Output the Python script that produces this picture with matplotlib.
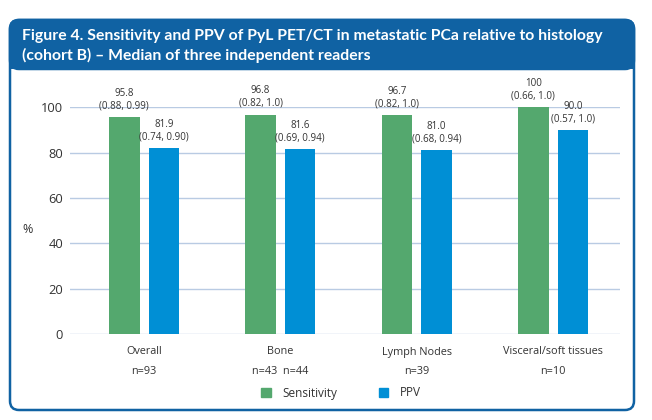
import matplotlib.pyplot as plt
from matplotlib.patches import FancyBboxPatch, Patch
import numpy as np

categories = ["Overall", "Bone", "Lymph Nodes", "Visceral/soft tissues"]
n_labels = ["n=93", "n=43  n=44", "n=39", "n=10"]
sensitivity = [95.8, 96.8, 96.7, 100]
ppv = [81.9, 81.6, 81.0, 90.0]
sens_txt = ["95.8", "96.8", "96.7", "100"]
ppv_txt = ["81.9", "81.6", "81.0", "90.0"]
sens_ci = ["(0.88, 0.99)", "(0.82, 1.0)", "(0.82, 1.0)", "(0.66, 1.0)"]
ppv_ci = ["(0.74, 0.90)", "(0.69, 0.94)", "(0.68, 0.94)", "(0.57, 1.0)"]

GREEN = "#54a86e"
BLUE = "#008fd5"
HEAD = "#1062a3"
GRID = "#b9cbe3"
TXT = "#333333"

plt.rcParams['font.family'] = ['Open Sans', 'DejaVu Sans']

fig = plt.figure(figsize=(6.52, 4.2), dpi=100)
W, H = 652, 420

# background axes in pixel coords for the rounded box and header band
bg = fig.add_axes([0, 0, 1, 1], zorder=-1)
bg.set_xlim(0, W)
bg.set_ylim(H, 0)
bg.axis("off")
bg.add_patch(FancyBboxPatch((10, 20), 624, 390,
                            boxstyle="round,pad=0,rounding_size=9",
                            facecolor="white", edgecolor=HEAD, linewidth=1.8))
bg.add_patch(FancyBboxPatch((10, 20), 624, 49,
                            boxstyle="round,pad=0,rounding_size=9",
                            facecolor=HEAD, edgecolor=HEAD, linewidth=1.8))
bg.add_patch(plt.Rectangle((10, 55), 624, 14, facecolor=HEAD, edgecolor="none"))
bg.text(22, 36,
        "Figure 4. Sensitivity and PPV of PyL PET/CT in metastatic PCa relative to histology",
        color="white", fontsize=11.3, fontweight="bold", va="center", ha="left",
        family=['Lato', 'DejaVu Sans'])
bg.text(22, 55,
        "(cohort B) \u2013 Median of three independent readers",
        color="white", fontsize=11.3, fontweight="bold", va="center", ha="left",
        family=['Lato', 'DejaVu Sans'])

ax = fig.add_axes([70 / W, 86 / H, 550 / W, 226.7 / H])
x = np.arange(len(categories))
bw = 0.224
off = 0.145
ax.bar(x - off, sensitivity, bw, color=GREEN, zorder=3)
ax.bar(x + off, ppv, bw, color=BLUE, zorder=3)

for i in range(len(categories)):
    ax.annotate(sens_ci[i], (x[i] - off, sensitivity[i]), xytext=(0, 4),
                textcoords="offset points", ha="center", va="bottom",
                fontsize=7, color=TXT, zorder=4)
    ax.annotate(sens_txt[i], (x[i] - off, sensitivity[i]), xytext=(0, 13),
                textcoords="offset points", ha="center", va="bottom",
                fontsize=7, color=TXT, zorder=4)
    ax.annotate(ppv_ci[i], (x[i] + off, ppv[i]), xytext=(0, 4),
                textcoords="offset points", ha="center", va="bottom",
                fontsize=7, color=TXT, zorder=4)
    ax.annotate(ppv_txt[i], (x[i] + off, ppv[i]), xytext=(0, 13),
                textcoords="offset points", ha="center", va="bottom",
                fontsize=7, color=TXT, zorder=4)
    ax.annotate(n_labels[i], (x[i], 0), xycoords=("data", "axes fraction"),
                xytext=(0, -27), textcoords="offset points", ha="center",
                va="center", fontsize=7.8, color=TXT)

ax.set_xlim(-0.543, 3.49)
ax.set_ylim(0, 100)
ax.set_yticks(range(0, 101, 20))
ax.set_xticks(x)
ax.set_xticklabels(categories)
ax.tick_params(axis="x", length=0, pad=9, labelsize=7.8, labelcolor=TXT)
ax.tick_params(axis="y", length=0, pad=5, labelsize=9.3, labelcolor=TXT)
ax.yaxis.grid(True, color=GRID, linewidth=1.0, zorder=0)
ax.set_axisbelow(True)
for s in ax.spines.values():
    s.set_visible(False)
ax.text(-0.078, 0.46, "%", transform=ax.transAxes, fontsize=9, color=TXT,
        ha="center", va="center")

handles = [Patch(color=GREEN, label="Sensitivity"), Patch(color=BLUE, label="PPV")]
fig.legend(handles=handles, loc="center", bbox_to_anchor=(341 / W, 1 - 393 / H),
           ncol=2, frameon=False, fontsize=8.5, handlelength=0.8, handleheight=0.8,
           columnspacing=3.5, handletextpad=1.0, labelcolor=TXT)

fig.savefig("out.png", dpi=100)
